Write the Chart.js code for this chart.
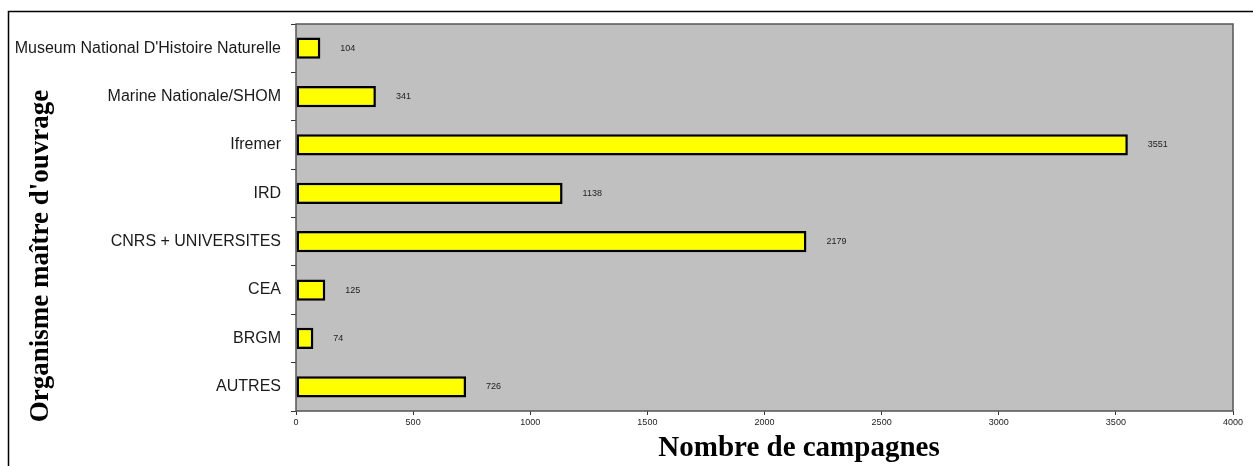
<!DOCTYPE html>
<html>
<head>
<meta charset="utf-8">
<script src="https://cdn.jsdelivr.net/npm/chart.js@4/dist/chart.umd.min.js"></script>
<style>
  body { margin: 0; background: #fff; }
  #wrap { width: 1253px; height: 466px; }
</style>
</head>
<body>
<div id="wrap"><canvas id="chart" width="1253" height="466"></canvas></div>
<script>
// categories top to bottom, as in the picture
const organismes = [
  "Museum National D'Histoire Naturelle",
  'Marine Nationale/SHOM',
  'Ifremer',
  'IRD',
  'CNRS + UNIVERSITES',
  'CEA',
  'BRGM',
  'AUTRES',
];
const campagnes = [104, 341, 3551, 1138, 2179, 125, 74, 726];
const xTicks = [0, 500, 1000, 1500, 2000, 2500, 3000, 3500, 4000];

const sans = '"Liberation Sans", Arial, sans-serif';
const serif = '"Liberation Serif", "DejaVu Serif", serif';

// frame, plot background, value labels and axis titles
const decor = {
  id: 'decor',
  beforeDraw(chart) {
    const { ctx, chartArea: a } = chart;
    ctx.save();
    ctx.fillStyle = '#fff';
    ctx.fillRect(0, 0, chart.width, chart.height);
    ctx.strokeStyle = '#000';
    ctx.lineWidth = 1.5;
    ctx.beginPath();
    ctx.moveTo(8.5, chart.height + 2);
    ctx.lineTo(8.5, 11.5);
    ctx.lineTo(chart.width + 2, 11.5);
    ctx.stroke();
    ctx.fillStyle = '#c0c0c0';
    ctx.fillRect(a.left, a.top, a.right - a.left, a.bottom - a.top);
    ctx.restore();
  },
  afterDatasetsDraw(chart) {
    const { ctx } = chart;
    const meta = chart.getDatasetMeta(0);
    ctx.save();
    ctx.font = '9px ' + sans;
    ctx.fillStyle = '#222';
    ctx.textBaseline = 'middle';
    meta.data.forEach((bar, i) => {
      ctx.fillText(String(campagnes[i]), bar.x + 20, bar.y);
    });
    ctx.restore();
  },
  afterDraw(chart) {
    const { ctx, chartArea: a } = chart;
    ctx.save();
    ctx.strokeStyle = '#555';
    ctx.lineWidth = 1.5;
    ctx.strokeRect(a.left, a.top, a.right - a.left, a.bottom - a.top);

    ctx.fillStyle = '#000';
    ctx.textAlign = 'center';
    ctx.textBaseline = 'alphabetic';
    ctx.font = 'bold 29px ' + serif;
    ctx.fillText('Nombre de campagnes', 799, 456);

    ctx.textBaseline = 'middle';
    ctx.font = 'bold 27px ' + serif;
    ctx.translate(41, 256);
    ctx.rotate(-Math.PI / 2);
    ctx.fillText("Organisme maître d'ouvrage", 0, 0);
    ctx.restore();
  },
};

new Chart(document.getElementById('chart'), {
  type: 'bar',
  data: {
    labels: organismes,
    datasets: [
      {
        data: campagnes,
        backgroundColor: '#ffff00',
        borderColor: '#000',
        borderWidth: 2.5,
        borderSkipped: false,
        barPercentage: 0.44,
        categoryPercentage: 1,
      },
    ],
  },
  options: {
    indexAxis: 'y',
    responsive: false,
    animation: false,
    layout: { padding: { left: 0, top: 24, right: 20, bottom: 0 } },
    plugins: {
      legend: { display: false },
      tooltip: { enabled: false },
    },
    scales: {
      x: {
        min: 0,
        max: 4000,
        afterFit(scale) { scale.height = 55; },
        afterBuildTicks(scale) { scale.ticks = xTicks.map(v => ({ value: v })); },
        ticks: {
          color: '#222',
          font: { family: sans, size: 9 },
          padding: 2,
          maxRotation: 0,
          callback: v => String(v),
        },
        grid: { drawOnChartArea: false, drawTicks: true, tickLength: 4, color: '#333' },
        border: { display: false },
      },
      y: {
        afterFit(scale) { scale.width = 296; },
        ticks: {
          color: '#1a1a1a',
          font: { family: sans, size: 16 },
          padding: 10,
        },
        grid: { offset: true, drawOnChartArea: false, drawTicks: true, tickLength: 5, color: '#333' },
        border: { display: false },
      },
    },
  },
  plugins: [decor],
});
</script>
</body>
</html>
